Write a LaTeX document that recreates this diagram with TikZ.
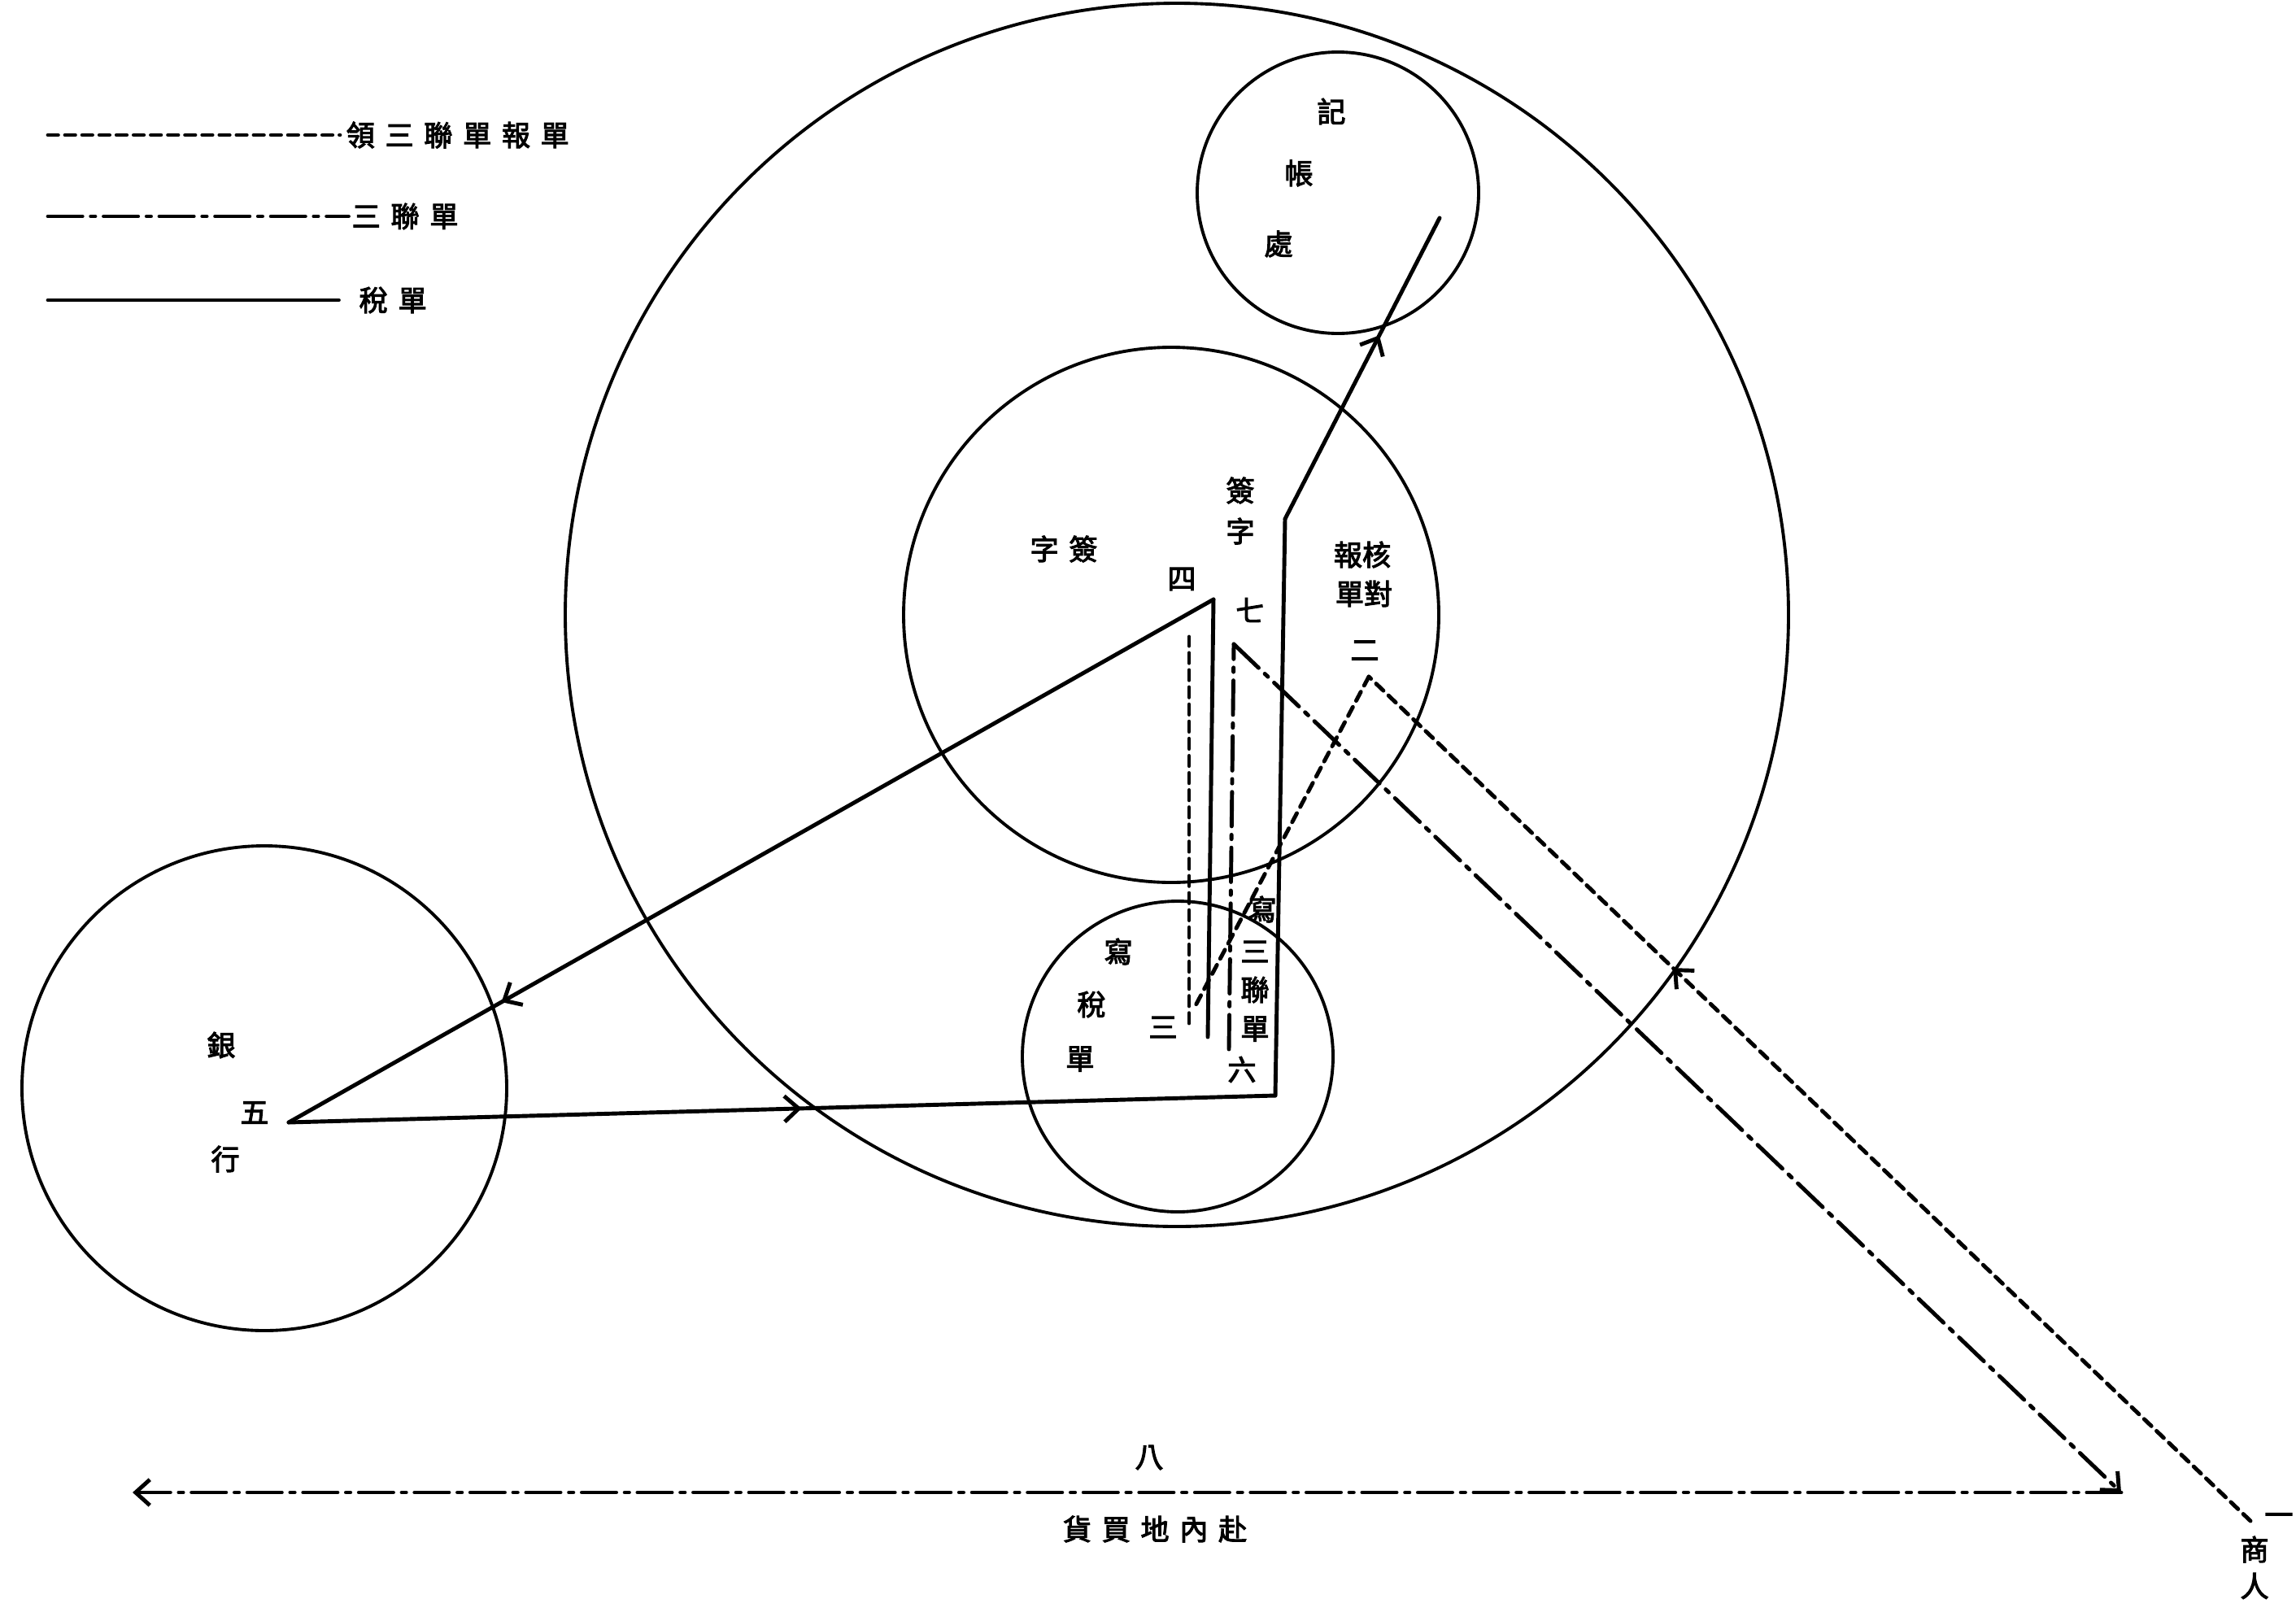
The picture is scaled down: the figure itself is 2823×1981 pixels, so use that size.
\documentclass[tikz,border=0pt]{standalone}
\usepackage{fontspec}
\newfontfamily\cjk[AutoFakeBold=3]{Noto Sans CJK TC}
\usetikzlibrary{arrows.meta,decorations.markings}

\newcommand{\spc}{\hskip 3.6pt}

\tikzstyle{office}=[draw,circle,line width=1.1pt,inner sep=0pt]
\tikzstyle{word}=[font=\cjk\bfseries\fontsize{10}{12}\selectfont,inner sep=0pt]
\tikzstyle{tax slip}=[draw,line width=1.4pt,line cap=round]
\tikzstyle{triple slip}=[tax slip,dash pattern=on 12pt off 3pt on 1.5pt off 3pt]
\tikzstyle{claim slip}=[tax slip,dash pattern=on 3.5pt off 2.5pt]
\tikzstyle{barb}=[-{Straight Barb[length=5pt,width=9pt]}]
\tikzset{mid barb/.style={postaction={decorate},decoration={markings,
    mark=at position #1 with {\arrow{Straight Barb[length=5pt,width=9pt]}}}}}

\begin{document}
\begin{tikzpicture}[x=0.1mm,y=-0.1mm]
    \useasboundingbox (0,0) rectangle (2823,1981);

    % offices
    \foreach \pos/\name/\size in {{(1447,756)/yard/150.4mm}, {(1645,237)/ledger/34.6mm},
                                  {(1440,756)/sign/65.8mm}, {(1448,1299)/taxdesk/38.2mm},
                                  {(325,1338)/bank/59.6mm}}
        \node[office,minimum size=\size] (\name) at \pos {};

    % corners of the routes
    \foreach \pos/\name in {{(1485,1275)/s3}, {(1492,737)/s4}, {(355,1380)/s5},
                            {(1568,1347)/s6}, {(1580,638)/s6t}, {(1770,268)/s7},
                            {(2767,1870)/d1}, {(1683,832)/d2}, {(1468,1240)/d3},
                            {(1462,1258)/d3v}, {(1462,783)/d4},
                            {(1511,1290)/c1}, {(1517,792)/c2}, {(2608,1835)/c3},
                            {(163,1835)/c4}}
        \node[coordinate] (\name) at \pos {};

    % texts in the offices
    \foreach \pos/\name/\txt in {{(1637,137)/ledgerA/記}, {(1597,213)/ledgerB/帳}, {(1572,300)/ledgerC/處},
                                 {(1525,603)/signA/簽}, {(1525,653)/signB/字},
                                 {(1308,675)/signC/字\spc 簽},
                                 {(1675,682)/checkA/報核}, {(1677,730)/checkB/單對},
                                 {(1375,1170)/taxA/寫}, {(1342,1235)/taxB/稅}, {(1328,1302)/taxC/單},
                                 {(1552,1118)/tripA/寫}, {(1543,1170)/tripB/三}, {(1543,1217)/tripC/聯},
                                 {(1543,1265)/tripD/單},
                                 {(272,1285)/bankA/銀}, {(277,1425)/bankB/行},
                                 {(2772,1905)/merchA/商}, {(2772,1950)/merchB/人},
                                 {(1420,1880)/inland/貨\spc 買\spc 地\spc 內\spc 赴}}
        \node[word] (\name) at \pos {\txt};

    % step numbers
    \foreach \pos/\name/\txt in {{(2802,1868)/one/一}, {(1678,800)/two/二}, {(1430,1263)/three/三},
                                 {(1453,712)/four/四}, {(313,1368)/five/五}, {(1527,1315)/six/六},
                                 {(1537,750)/seven/七}, {(1413,1792)/eight/八}}
        \node[word] (\name) at \pos {\txt};

    % tax slip
    \path[tax slip] (s3) -- (s4);
    \path[tax slip,mid barb=0.77] (s4) -- (s5);
    \path[tax slip,mid barb=0.52] (s5) -- (s6);
    \path[tax slip] (s6) -- (s6t);
    \path[tax slip,mid barb=0.61] (s6t) -- (s7);

    % claim for the triple slip
    \path[claim slip,mid barb=0.655] (d1) -- (d2);
    \path[claim slip] (d2) -- (d3);
    \path[claim slip] (d3v) -- (d4);

    % triple slip
    \path[triple slip] (c1) -- (c2);
    \path[triple slip,barb] (c2) -- (c3);
    \path[triple slip,barb] (c3) -- (c4);

    % key
    \node[word,anchor=west] (keyclaim) at (425,166) {領\spc 三\spc 聯\spc 單\spc 報\spc 單};
    \node[word,anchor=west] (keytriple) at (432,266) {三\spc 聯\spc 單};
    \node[word,anchor=west] (keytax) at (441,369) {稅\spc 單};
    \node[coordinate] (kc) at (59,166) {};
    \node[coordinate] (kt) at (59,266) {};
    \node[coordinate] (kx) at (59,369) {};
    \path[claim slip] (kc) -- ([xshift=-2pt]keyclaim.west);
    \path[triple slip] (kt) -- ([xshift=-1pt]keytriple.west);
    \path[tax slip] (kx) -- ([xshift=-7pt]keytax.west);
\end{tikzpicture}
\end{document}
